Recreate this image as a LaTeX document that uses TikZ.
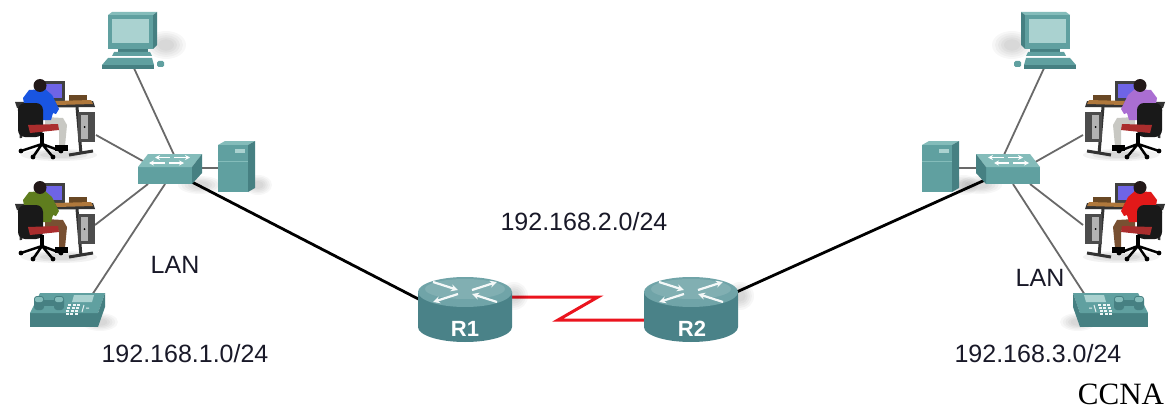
\documentclass[tikz,border=0pt]{standalone}
\usepackage{fontspec}
\setmainfont{Liberation Sans}
\newfontfamily\seriffont{Liberation Serif}
\usetikzlibrary{arrows.meta}

\definecolor{dev}{RGB}{96,160,160}
\definecolor{devlt}{RGB}{132,188,186}
\definecolor{devdk}{RGB}{70,128,130}
\definecolor{scr}{RGB}{170,210,208}
\definecolor{rtop}{RGB}{112,164,168}
\definecolor{rbody}{RGB}{74,130,136}
\definecolor{linkgray}{RGB}{105,105,105}
\definecolor{wanred}{RGB}{235,20,30}
\definecolor{txt}{RGB}{25,25,40}
\definecolor{scrw}{RGB}{110,100,230}
\definecolor{hair}{RGB}{35,25,25}
\definecolor{deskwood}{RGB}{175,120,60}
\definecolor{chairred}{RGB}{170,45,45}
\definecolor{shirtblue}{RGB}{25,85,225}
\definecolor{shirtgreen}{RGB}{95,125,30}
\definecolor{shirtpurple}{RGB}{170,110,210}
\definecolor{shirtred}{RGB}{225,25,25}
\definecolor{pants}{RGB}{200,200,195}
\definecolor{skirt}{RGB}{120,80,50}

\tikzset{
  lanlink/.style={draw=linkgray, line width=1.8},
  trunk/.style={draw=black, line width=2.8},
  serial/.style={draw=wanred, line width=3, line join=miter},
  lbl/.style={text=txt, font=\fontsize{25}{29}\selectfont, inner sep=0},
  rlabel/.style={text=white, font=\bfseries\fontsize{22}{26}\selectfont, inner sep=0},
  tiparrow/.style={white, line width=1.4, -{Stealth[length=5,width=5]}},
  rarrow/.style={white!92!rtop, line width=2.2, -{Stealth[length=7,width=7]}},
  pics/softshadow/.style 2 args={code={
    \foreach \k in {1,0.85,0.7,0.55,0.4}{\fill[black,opacity=0.03] (0,0) ellipse ({#1*\k} and {#2*\k});}
  }},
  % desktop computer
  pics/pcicon/.style={code={
    \fill[devdk] (-6,53) -- (46,53) -- (46,57) -- (-6,57) -- cycle;
    \fill[dev] (0,46) -- (44,46) -- (46,53) -- (-6,53) -- cycle;
    \fill[dev, rounded corners=1.5] (49,49) rectangle (56,55);
    \fill[devdk] (10,36) rectangle (40,42);
    \fill[dev] (6,40) -- (42,40) -- (44,44) -- (4,44) -- cycle;
    \fill[devlt] (0,3) -- (4,0) -- (49,0) -- (45,3) -- cycle;
    \fill[devdk] (45,3) -- (49,0) -- (49,33) -- (45,37) -- cycle;
    \fill[dev] (0,3) rectangle (45,37);
    \fill[scr] (4,7) rectangle (41,31);
  }},
  % workgroup switch
  pics/switchicon/.style={code={
    \fill[dev] (0,13) rectangle (54,30);
    \fill[devlt] (10,0) -- (64,0) -- (54,13) -- (0,13) -- cycle;
    \fill[devdk] (54,13) -- (64,0) -- (64,19) -- (54,30) -- cycle;
    \draw[tiparrow] (32,3.5) -- (17,3.5);
    \draw[tiparrow] (36,3.5) -- (52,3.5);
    \draw[tiparrow] (27,9) -- (11,9);
    \draw[tiparrow] (31,9) -- (46,9);
  }},
  % tower server
  pics/servericon/.style={code={
    \fill[devlt] (0,4) -- (7,0) -- (37,0) -- (30,4) -- cycle;
    \fill[devdk] (30,4) -- (37,0) -- (37,47) -- (30,51) -- cycle;
    \fill[dev] (0,4) rectangle (30,51);
    \draw[devlt, line width=0.8] (0,20) -- (30,20);
    \fill[scr] (17,8) rectangle (27,12);
  }},
  % IP phone
  pics/phoneicon/.style={code={
    \fill[devdk] (0,20) -- (68,20) -- (68,34) -- (0,34) -- cycle;
    \fill[dev] (10,0) -- (75,0) -- (68,20) -- (0,20) -- cycle;
    \fill[devdk] (68,20) -- (75,0) -- (75,14) -- (68,34) -- cycle;
    \fill[devdk, rounded corners=3] (4,3) rectangle (14,17);
    \fill[devdk, rounded corners=3] (24,3) rectangle (34,17);
    \fill[devdk] (12,7) rectangle (26,13);
    \fill[devlt, rounded corners=2] (5,4) rectangle (13,9);
    \fill[devlt, rounded corners=2] (25,4) rectangle (33,9);
    \fill[scr] (44,2) -- (64,2) -- (62,9) -- (42,9) -- cycle;
    \foreach \r in {0,1,2,3}{\foreach \c in {0,1,2}{
      \fill[white!90!dev] ({38+\c*4.5-\r*0.8},{11+\r*3}) rectangle +(3,2);}}
    \draw[white!85!dev, line width=1] (54,12) -- (52,19) (56,15) -- (59,15);
  }},
  % seated user at a desk; #1 = shirt, #2 = legs
  pics/worker/.style 2 args={code={
    \foreach \k in {1,0.75,0.5}{\fill[black,opacity=0.05] (44,77) ellipse ({38*\k} and {6*\k});}
    \fill[black!75] (28,3) rectangle (50,24);
    \fill[scrw] (31,6) rectangle (47,20);
    \fill[black!75] (36,24) rectangle (42,26);
    \fill[deskwood!60!black] (54,17) rectangle (72,25);
    \fill[black!80] (0,24) -- (78,23) -- (80,29) -- (2,30) -- cycle;
    \fill[deskwood] (40,23) -- (76,22) -- (78,26) -- (42,27) -- cycle;
    \draw[black!80, line width=3] (62,29) -- (66,76);
    \draw[black!80, line width=3] (54,77) -- (78,73);
    \draw[black!80, line width=2.5] (4,29) -- (6,60);
    \fill[black!70] (63,34) rectangle (80,64);
    \fill[gray!60] (66,37) rectangle (73,61);
    \fill[black] (69.5,49) circle (1);
    \fill[#2] (30,39) -- (48,40) -- (52,47) -- (50,68) -- (44,69) -- (44,50) -- (30,50) -- cycle;
    \fill[black] (40,67) rectangle (53,73);
    \fill[#1] (8,20) -- (14,12) -- (30,11) -- (37,17) -- (44,31) -- (41,36) -- (38,35) -- (36,42) -- (12,42) -- cycle;
    \fill[hair] (25,7.5) circle (6.5);
    \fill[black!90, rounded corners=7] (3,25) rectangle (28,59);
    \fill[chairred] (13,47) -- (43,46) -- (44,52) -- (15,55) -- cycle;
    \fill[black] (25,55) rectangle (29,66);
    \draw[black, line width=2.5] (27,66) -- (6,73) (27,66) -- (46,73) (27,66) -- (18,79) (27,66) -- (38,79);
    \foreach \p in {(6,73),(46,73),(18,79),(38,79)}{\fill[black] \p circle (2.4);}
  }},
  % router cylinder, origin at centre of top face
  pics/routericon/.style={code={
    \fill[rbody] (-47,0) -- (-47,35) arc[start angle=180,end angle=0,x radius=47,y radius=15] -- (47,0) -- cycle;
    \fill[rtop] (0,0) ellipse (47 and 15);
    \fill[white,opacity=0.12] (0,-3) ellipse (40 and 10);
    \draw[rarrow] (-32,-10) -- (-7,-2);
    \draw[rarrow] (7,-2) -- (32,-10);
    \draw[rarrow] (-7,2) -- (-32,10);
    \draw[rarrow] (32,10) -- (7,2);
  }},
}

\begin{document}
\begin{tikzpicture}[x=1pt,y=-1pt]
\useasboundingbox[fill=white] (0,0) rectangle (1173,412);

% ---- port coordinates ----
\coordinate (pcL-p) at (133,66);      \coordinate (swL-p1) at (175,157);
\coordinate (wL1-p) at (96,135);      \coordinate (swL-p2) at (150,165);
\coordinate (wL2-p) at (95,225);      \coordinate (swL-p3) at (148,184);
\coordinate (phL-p) at (92,295);      \coordinate (swL-p4) at (165,184);
\coordinate (srvL-p) at (220,168);    \coordinate (swL-p5) at (200,168);
\coordinate (swL-up) at (190,181);    \coordinate (r1-l) at (430,305);
\coordinate (r1-s) at (510,297);      \coordinate (z1) at (598,297);
\coordinate (z2) at (558,320);        \coordinate (r2-s) at (646,320);
\coordinate (r2-r) at (730,295);      \coordinate (swR-up) at (985,180);
\coordinate (pcR-p) at (1045,66);     \coordinate (swR-p1) at (1003,157);
\coordinate (wR1-p) at (1083,135);    \coordinate (swR-p2) at (1030,165);
\coordinate (wR2-p) at (1083,225);    \coordinate (swR-p3) at (1030,184);
\coordinate (phR-p) at (1085,295);    \coordinate (swR-p4) at (1013,184);
\coordinate (srvR-p) at (956,168);    \coordinate (swR-p5) at (978,168);

% ---- links ----
\draw[lanlink] (pcL-p) -- (swL-p1);
\draw[lanlink] (wL1-p) -- (swL-p2);
\draw[lanlink] (wL2-p) -- (swL-p3);
\draw[lanlink] (phL-p) -- (swL-p4);
\draw[lanlink] (srvL-p) -- (swL-p5);
\draw[lanlink] (pcR-p) -- (swR-p1);
\draw[lanlink] (wR1-p) -- (swR-p2);
\draw[lanlink] (wR2-p) -- (swR-p3);
\draw[lanlink] (phR-p) -- (swR-p4);
\draw[lanlink] (srvR-p) -- (swR-p5);
\draw[trunk] (swL-up) -- (r1-l);
\draw[trunk] (r2-r) -- (swR-up);
\draw[serial] (r1-s) -- (z1) -- (z2) -- (r2-s);

% ---- shadows ----
\pic at (166,45) {softshadow={20}{14}};
\pic at (1012,45) {softshadow={20}{14}};
\pic at (200,185) {softshadow={22}{9}};
\pic at (980,185) {softshadow={22}{9}};
\pic at (258,185) {softshadow={14}{10}};
\pic at (964,185) {softshadow={14}{10}};
\pic at (100,322) {softshadow={18}{9}};
\pic at (1078,322) {softshadow={18}{9}};
\pic at (514,296) {softshadow={14}{14}};
\pic at (740,296) {softshadow={14}{14}};

% ---- left LAN ----
\pic (pcL) at (108,12) {pcicon};
\pic (wL1) at (15,78) {worker={shirtblue}{pants}};
\pic (wL2) at (15,180) {worker={shirtgreen}{skirt}};
\pic (phL) at (30,293) {phoneicon};
\pic (swL) at (138,154) {switchicon};
\pic (srvL) at (218,141) {servericon};

% ---- right LAN ----
\pic[xscale=-1] (pcR) at (1070,12) {pcicon};
\pic[xscale=-1] (wR1) at (1165,78) {worker={shirtpurple}{pants}};
\pic[xscale=-1] (wR2) at (1165,180) {worker={shirtred}{skirt}};
\pic[xscale=-1] (phR) at (1148,293) {phoneicon};
\pic[xscale=-1] (swR) at (1040,154) {switchicon};
\pic (srvR) at (922,141) {servericon};

% ---- routers ----
\pic (r1) at (465,292) {routericon};
\pic (r2) at (691,292) {routericon};
\node[rlabel] (r1lbl) at (465,329) {R1};
\node[rlabel] (r2lbl) at (692,329) {R2};

% ---- labels ----
\node[lbl] (lanL) at (175,265) {LAN};
\node[lbl] (netL) at (185,354) {192.168.1.0/24};
\node[lbl] (netW) at (584,222) {192.168.2.0/24};
\node[lbl] (lanR) at (1040,278) {LAN};
\node[lbl] (netR) at (1038,354) {192.168.3.0/24};
\node[inner sep=0, font=\seriffont\fontsize{31}{35}\selectfont] (ccna) at (1121,394) {CCNA};
\end{tikzpicture}
\end{document}
